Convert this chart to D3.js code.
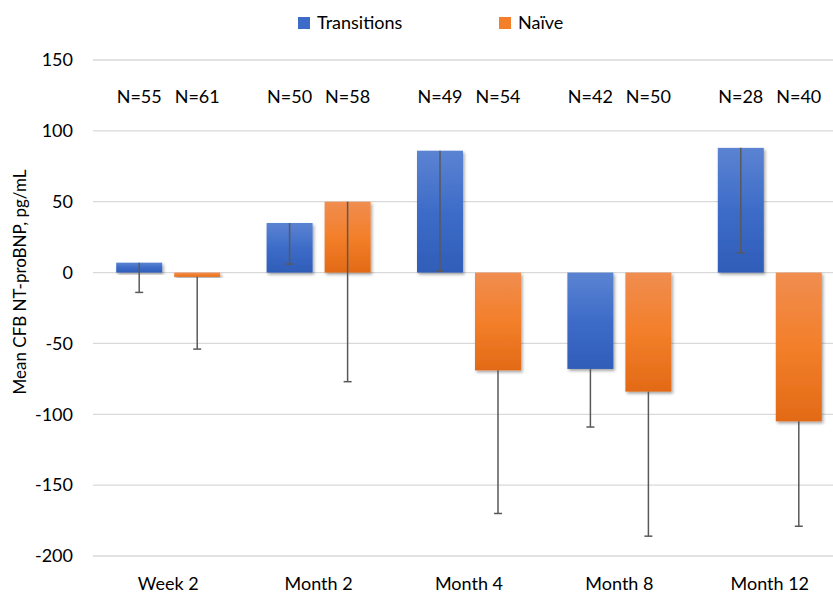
<!DOCTYPE html>
<html>
<head>
<meta charset="utf-8">
<script src="https://cdn.jsdelivr.net/npm/d3@7"></script>
<style>
    html, body { margin: 0; padding: 0; background: #fff; }
    svg { display: block; font-family: Lato, "Open Sans", sans-serif; }
</style>
</head>
<body>
<svg id="chart" width="833" height="594"></svg>
<script>
/**
 * Data.
 */
const categories = ['Week 2', 'Month 2', 'Month 4', 'Month 8', 'Month 12'];
const seriesNames = ['Transitions', 'Naïve'];
const transitionsMean = [7, 35, 86, -68, 88];
const transitionsLower = [-14, 6, 1, -109, 14];
const naiveMean = [-3, 50, -69, -84, -105];
const naiveLower = [-54, -77, -170, -186, -179];
const transitionsN = [55, 50, 49, 42, 28];
const naiveN = [61, 58, 54, 50, 40];
const yTicks = [150, 100, 50, 0, -50, -100, -150, -200];

/**
 * Visual configs.
 */
const svg = d3.select('#chart'),
    plot = { left: 93, right: 845, top: 60, bottom: 556 },
    barWidth = 46,
    barGap = 12,
    colors = [
        ['#5b83d2', '#3d6cc8', '#2f5db8'],
        ['#f08d50', '#f37f2a', '#e26a16']
    ];

const rows = categories.map((c, i) => ({
    cat: c,
    bars: [
        { s: 0, mean: transitionsMean[i], lower: transitionsLower[i], n: transitionsN[i] },
        { s: 1, mean: naiveMean[i], lower: naiveLower[i], n: naiveN[i] }
    ]
}));

/**
 * Scales.
 */
const xScale = d3.scaleBand().domain(categories).range([plot.left, plot.right]);
const yScale = d3.scaleLinear().domain([-200, 150]).range([plot.bottom, plot.top]);
const barX = (cat, s) => xScale(cat) + xScale.bandwidth() / 2 + (s === 0 ? -barGap / 2 - barWidth : barGap / 2);

// Gradients and shadow
const defs = svg.append('defs');
colors.forEach((c, i) => {
    const g = defs.append('linearGradient').attr('id', 'grad' + i)
        .attr('x1', 0).attr('y1', 0).attr('x2', 0).attr('y2', 1);
    g.append('stop').attr('offset', '0%').attr('stop-color', c[0]);
    g.append('stop').attr('offset', '50%').attr('stop-color', c[1]);
    g.append('stop').attr('offset', '100%').attr('stop-color', c[2]);
});
const shadow = defs.append('filter').attr('id', 'shadow')
    .attr('x', '-20%').attr('y', '-20%').attr('width', '140%').attr('height', '140%');
shadow.append('feDropShadow').attr('dx', 1.5).attr('dy', 2).attr('stdDeviation', 1.5)
    .attr('flood-color', '#000').attr('flood-opacity', 0.35);

// Gridlines
svg.append('g').selectAll('line').data(yTicks).join('line')
    .attr('x1', plot.left).attr('x2', 833)
    .attr('y1', d => yScale(d)).attr('y2', d => yScale(d))
    .attr('stroke', '#d9d9d9').attr('stroke-width', 1.3);

// Y axis labels
svg.append('g').selectAll('text').data(yTicks).join('text')
    .attr('x', 73).attr('y', d => yScale(d)).attr('dy', '0.35em')
    .attr('text-anchor', 'end').attr('font-size', 18).attr('fill', '#000')
    .text(d => d);

svg.append('text')
    .attr('transform', 'translate(26,282) rotate(-90)')
    .attr('text-anchor', 'middle').attr('font-size', 17).attr('fill', '#000')
    .text('Mean CFB NT-proBNP, pg/mL');

// X axis labels
svg.append('g').selectAll('text').data(categories).join('text')
    .attr('x', d => xScale(d) + xScale.bandwidth() / 2).attr('y', 590)
    .attr('text-anchor', 'middle').attr('font-size', 18).attr('fill', '#000')
    .text(d => d);

// Bars
const groups = svg.append('g').selectAll('g').data(rows).join('g');
const bars = groups.selectAll('g').data(r => r.bars.map(b => Object.assign({ cat: r.cat }, b))).join('g');

bars.append('rect')
    .attr('x', d => barX(d.cat, d.s))
    .attr('y', d => yScale(Math.max(0, d.mean)))
    .attr('width', barWidth)
    .attr('height', d => Math.abs(yScale(d.mean) - yScale(0)))
    .attr('fill', d => 'url(#grad' + d.s + ')')
    .attr('filter', 'url(#shadow)');

// Error bars (lower only)
bars.append('line')
    .attr('x1', d => barX(d.cat, d.s) + barWidth / 2).attr('x2', d => barX(d.cat, d.s) + barWidth / 2)
    .attr('y1', d => yScale(d.mean)).attr('y2', d => yScale(d.lower))
    .attr('stroke', '#595959').attr('stroke-width', 1.5);
bars.append('line')
    .attr('x1', d => barX(d.cat, d.s) + barWidth / 2 - 4).attr('x2', d => barX(d.cat, d.s) + barWidth / 2 + 4)
    .attr('y1', d => yScale(d.lower)).attr('y2', d => yScale(d.lower))
    .attr('stroke', '#595959').attr('stroke-width', 1.5);

// N labels
bars.append('text')
    .attr('x', d => barX(d.cat, d.s) + barWidth / 2).attr('y', 103)
    .attr('text-anchor', 'middle').attr('font-size', 18).attr('fill', '#000')
    .text(d => 'N=' + d.n);

// Legend
const legend = svg.append('g').selectAll('g').data(seriesNames).join('g')
    .attr('transform', (d, i) => 'translate(' + (i === 0 ? 298 : 499) + ',17)');
legend.append('rect').attr('width', 12).attr('height', 12)
    .attr('fill', (d, i) => colors[i][1]);
legend.append('text').attr('x', 19).attr('y', 6).attr('dy', '0.35em')
    .attr('font-size', 18).attr('fill', '#000')
    .text(d => d);
</script>
</body>
</html>
